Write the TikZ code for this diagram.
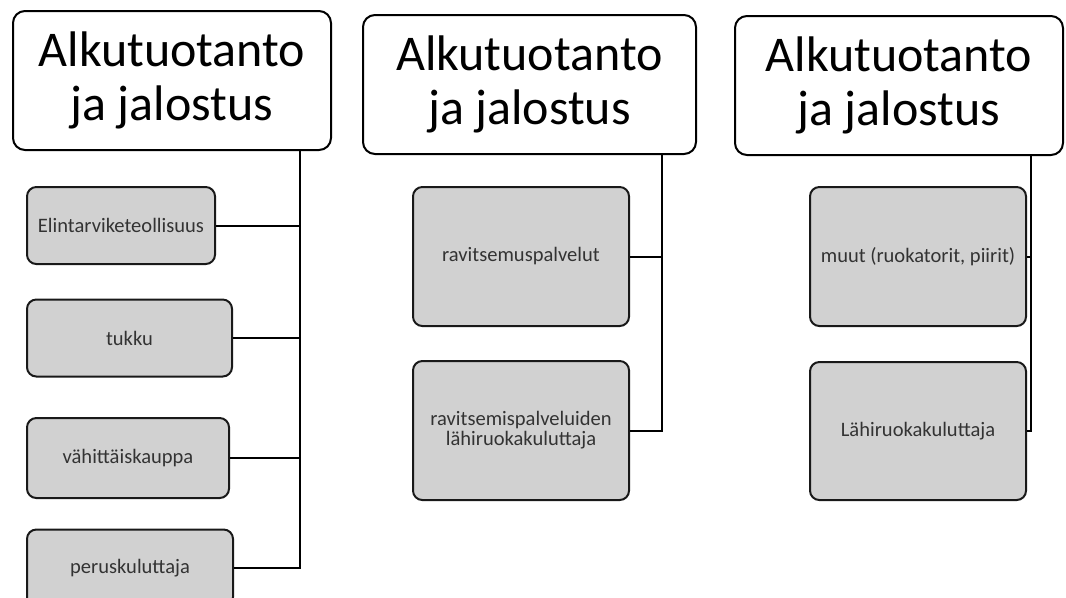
\documentclass[tikz,border=0pt]{standalone}
\usepackage{fontspec}
\setmainfont{Carlito}
\usepackage{tikz}
\usepackage{xcolor}

\begin{document}
\begin{tikzpicture}[x=0.75pt, y=-0.75pt,
  otsikko/.style={draw=black, line width=1.5pt, rounded corners=9pt, fill=white, align=center, inner sep=0pt, minimum height=104.25pt, font=\fontsize{37.5}{40}\selectfont},
  laatikko/.style={draw=black!90, line width=1.5pt, rounded corners=7pt, fill=black!18, text=black!80, align=center, inner sep=0pt, font=\fontsize{15.4}{15}\selectfont},
  viiva/.style={line width=1.5pt}] %coordenadas em pixels da figura

%Define a area visivel da figura (1066 x 597 pixels)
\useasboundingbox (0,0) rectangle (1066,597);

%Os tres cabecalhos "Alkutuotanto ja jalostus", um para cada coluna
%---------------------------------------------------
\node[otsikko, minimum width=238.5pt] (A1) at (172,80.5) {Alkutuotanto\\ja jalostus};
\node[otsikko, minimum width=249.75pt] (A2) at (529.5,84.5) {Alkutuotanto\\ja jalostus};
\node[otsikko, minimum width=246pt] (A3) at (899,85.5) {Alkutuotanto\\ja jalostus};
%---------------------------------------------------

%Primeira coluna: quatro caixas cinzas
%---------------------------------------------------
\node[laatikko, minimum width=141pt, minimum height=57.75pt] (Elin) at (121,225.5) {Elintarviketeollisuus};
\node[laatikko, minimum width=153.75pt, minimum height=57.75pt] (Tukku) at (129.5,338) {tukku};
\node[laatikko, minimum width=151.5pt, minimum height=60pt] (Vahit) at (128,458) {vähittäiskauppa};
\node[laatikko, minimum width=154.5pt, minimum height=57.75pt] (Perus) at (130,568) {peruskuluttaja};
%---------------------------------------------------

%Segunda coluna: duas caixas cinzas
%---------------------------------------------------
\node[laatikko, minimum width=162pt, minimum height=104.25pt] (Ravit) at (521,256.5) {ravitsemuspalvelut};
\node[laatikko, minimum width=162pt, minimum height=104.25pt] (RavLahi) at (521,430.5) {ravitsemispalveluiden\\lähiruokakuluttaja};
%---------------------------------------------------

%Terceira coluna: duas caixas cinzas
%---------------------------------------------------
\node[laatikko, minimum width=162pt, minimum height=104.25pt] (Muut) at (918,256.5) {muut (ruokatorit, piirit)};
\node[laatikko, minimum width=162pt, minimum height=103.5pt] (Lahi) at (918,431) {Lähiruokakuluttaja};
%---------------------------------------------------

%Linhas verticais que descem de cada cabecalho
\coordinate (V1) at (300,0);
\coordinate (V2) at (662,0);
\coordinate (V3) at (1031,0);

%Primeira coluna: do cabecalho ate a ultima caixa, e os ramos das outras caixas
%---------------------------------------------------
\draw[viiva, line width=2.2pt] (A1.south -| V1) |- (Perus.east);
\draw[viiva] (Elin.east) -- (Elin.east -| V1);
\draw[viiva] (Tukku.east) -- (Tukku.east -| V1);
\draw[viiva] (Vahit.east) -- (Vahit.east -| V1);
%---------------------------------------------------

%Segunda coluna
%---------------------------------------------------
\draw[viiva] (A2.south -| V2) |- (RavLahi.east);
\draw[viiva] (Ravit.east) -- (Ravit.east -| V2);
%---------------------------------------------------

%Terceira coluna
%---------------------------------------------------
\draw[viiva] (A3.south -| V3) |- (Lahi.east);
\draw[viiva] (Muut.east) -- (Muut.east -| V3);
%---------------------------------------------------

\end{tikzpicture}
\end{document}
